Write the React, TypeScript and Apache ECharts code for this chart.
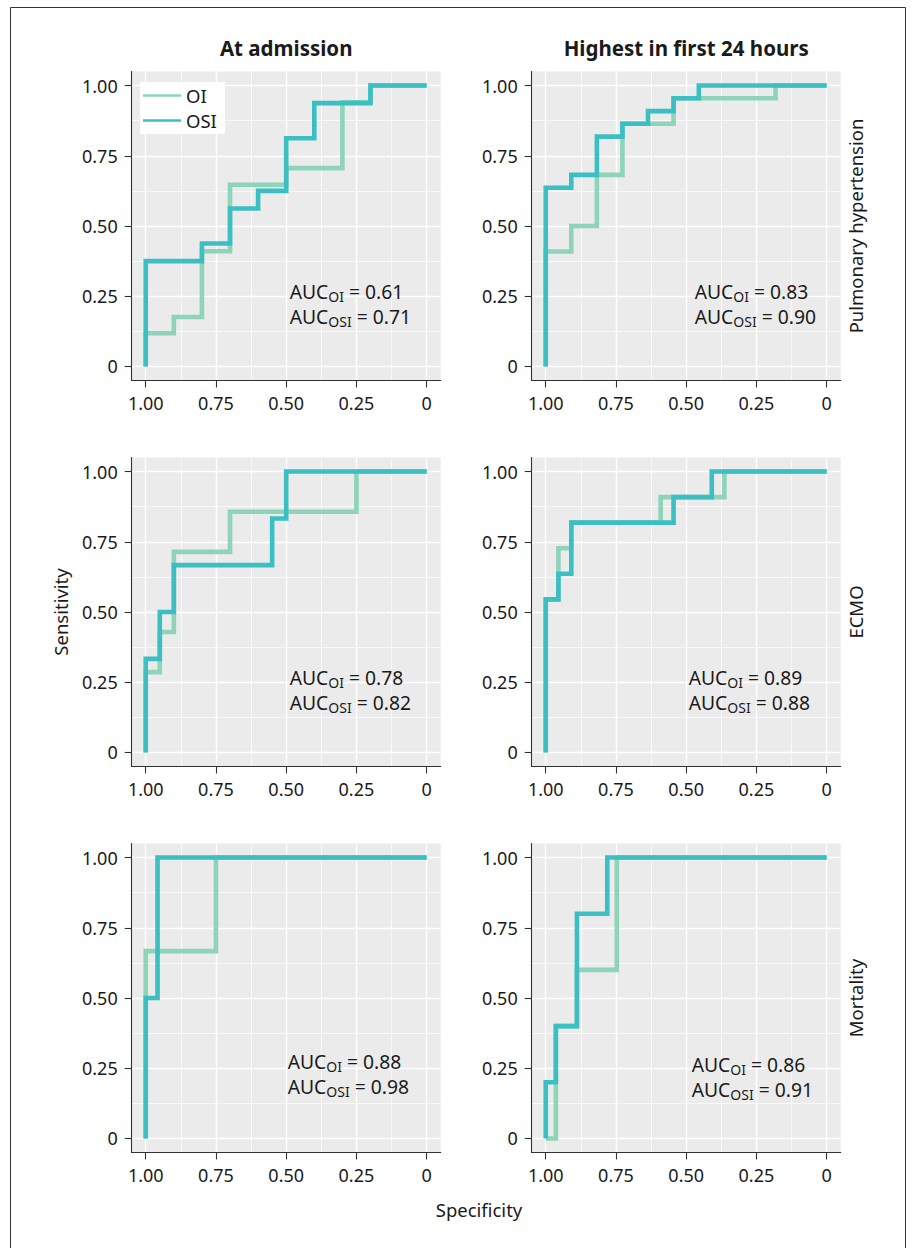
import React, { useEffect, useRef } from 'react';
import * as echarts from 'echarts';

// ---------- data ----------
const majorTicks = [0, 0.25, 0.5, 0.75, 1];
const minorTicks = [0.125, 0.375, 0.625, 0.875];
const tickLabels = ['0', '0.25', '0.50', '0.75', '1.00'];

const columnTitles = ['At admission', 'Highest in first 24 hours'];
const rowLabels = ['Pulmonary hypertension', 'ECMO', 'Mortality'];
const seriesNames = ['OI', 'OSI'];

// ROC curves: corner points (specificity, sensitivity), drawn as steps
const phAdmOISpec = [1, 0.9, 0.8, 0.7, 0.5, 0.3, 0.2, 0];
const phAdmOISens = [0, 0.118, 0.176, 0.41, 0.647, 0.706, 0.94, 1];
const phAdmOSISpec = [1, 0.8, 0.7, 0.6, 0.5, 0.4, 0.2, 0];
const phAdmOSISens = [0, 0.375, 0.4375, 0.5625, 0.625, 0.8125, 0.9375, 1];

const ph24OISpec = [1, 0.909, 0.818, 0.727, 0.545, 0.182, 0];
const ph24OISens = [0, 0.409, 0.5, 0.682, 0.864, 0.955, 1];
const ph24OSISpec = [1, 0.909, 0.818, 0.727, 0.636, 0.545, 0.455, 0];
const ph24OSISens = [0, 0.636, 0.682, 0.818, 0.864, 0.909, 0.955, 1];

const ecmoAdmOISpec = [1, 0.95, 0.9, 0.7, 0.25, 0];
const ecmoAdmOISens = [0, 0.286, 0.429, 0.714, 0.857, 1];
const ecmoAdmOSISpec = [1, 0.95, 0.9, 0.55, 0.5, 0];
const ecmoAdmOSISens = [0, 0.333, 0.5, 0.667, 0.833, 1];

const ecmo24OISpec = [1, 0.955, 0.909, 0.591, 0.364, 0];
const ecmo24OISens = [0, 0.545, 0.727, 0.818, 0.909, 1];
const ecmo24OSISpec = [1, 0.955, 0.909, 0.545, 0.409, 0];
const ecmo24OSISens = [0, 0.545, 0.636, 0.818, 0.909, 1];

const mortAdmOISpec = [1, 0.75, 0];
const mortAdmOISens = [0, 0.667, 1];
const mortAdmOSISpec = [1, 0.958, 0];
const mortAdmOSISens = [0, 0.5, 1];

const mort24OISpec = [1, 0.964, 0.889, 0.747, 0];
const mort24OISens = [0, 0, 0.4, 0.6, 1];
const mort24OSISpec = [1, 0.964, 0.889, 0.781, 0];
const mort24OSISens = [0, 0.2, 0.4, 0.8, 1];

const aucOI = [0.61, 0.83, 0.78, 0.89, 0.88, 0.86];
const aucOSI = [0.71, 0.9, 0.82, 0.88, 0.98, 0.91];

const panelCurves = [
  [[phAdmOISpec, phAdmOISens], [phAdmOSISpec, phAdmOSISens]],
  [[ph24OISpec, ph24OISens], [ph24OSISpec, ph24OSISens]],
  [[ecmoAdmOISpec, ecmoAdmOISens], [ecmoAdmOSISpec, ecmoAdmOSISens]],
  [[ecmo24OISpec, ecmo24OISens], [ecmo24OSISpec, ecmo24OSISens]],
  [[mortAdmOISpec, mortAdmOISens], [mortAdmOSISpec, mortAdmOSISens]],
  [[mort24OISpec, mort24OISens], [mort24OSISpec, mort24OSISens]],
];

// ---------- style / layout ----------
const FONT = '"Noto Sans", "Open Sans", sans-serif';
const COLORS = ['#8dd4b8', '#3bbfc3'];
const colLeft = [131.7, 531.7];
const rowTop = [71.5, 457.5, 843.5];
const panelW = 309;
const panelH = 309;
// AUC label offset inside each panel (left x, first line center y)
const aucPos = [
  [158, 221], [163, 221],
  [158, 221], [157, 221],
  [156, 219], [160, 222],
];

function buildOption() {
  const grid: any[] = [];
  const xAxis: any[] = [];
  const yAxis: any[] = [];
  const series: any[] = [];
  const graphic: any[] = [];

  const fmt = (v: number) => {
    const k = majorTicks.indexOf(v);
    return k >= 0 ? tickLabels[k] : '';
  };

  panelCurves.forEach((curves, i) => {
    const r = Math.floor(i / 2);
    const c = i % 2;
    grid.push({
      left: colLeft[c], top: rowTop[r], width: panelW, height: panelH,
      show: true, backgroundColor: '#ebebeb', borderWidth: 0,
    });
    const base = { type: 'value', gridIndex: i, min: -0.05, max: 1.05 };
    const axisLine = { show: true, onZero: false, lineStyle: { color: '#333', width: 1.1 } };
    xAxis.push({
      ...base, inverse: true, position: 'bottom',
      axisLine,
      axisTick: { show: true, length: 7, customValues: majorTicks, lineStyle: { color: '#333', width: 1.1 } },
      axisLabel: { customValues: majorTicks, formatter: fmt, margin: 13, fontSize: 18, color: '#1a1a1a', fontFamily: FONT },
      splitLine: { show: true, lineStyle: { color: '#ffffff', width: 1.4 } },
    });
    xAxis.push({
      ...base, inverse: true, position: 'top',
      axisLine: { show: false },
      axisTick: { show: false, customValues: minorTicks },
      axisLabel: { show: false, customValues: minorTicks },
      splitLine: { show: true, lineStyle: { color: '#ffffff', width: 0.7 } },
    });
    yAxis.push({
      ...base, position: 'left',
      axisLine,
      axisTick: { show: true, length: 7, customValues: majorTicks, lineStyle: { color: '#333', width: 1.1 } },
      axisLabel: { customValues: majorTicks, formatter: fmt, margin: 14, fontSize: 18, color: '#1a1a1a', fontFamily: FONT },
      splitLine: { show: true, lineStyle: { color: '#ffffff', width: 1.4 } },
    });
    yAxis.push({
      ...base, position: 'right',
      axisLine: { show: false },
      axisTick: { show: false, customValues: minorTicks },
      axisLabel: { show: false, customValues: minorTicks },
      splitLine: { show: true, lineStyle: { color: '#ffffff', width: 0.7 } },
    });

    curves.forEach(([spec, sens], k) => {
      series.push({
        type: 'line',
        name: seriesNames[k],
        xAxisIndex: 2 * i,
        yAxisIndex: 2 * i,
        step: 'start',
        symbol: 'none',
        color: COLORS[k],
        lineStyle: { color: COLORS[k], width: 4.6, cap: 'butt', join: 'miter' },
        data: spec.map((s, j) => [s, sens[j]]),
        z: 2 + k,
        silent: true,
      });
    });

    const [ax, ay] = aucPos[i];
    const vals = [aucOI[i], aucOSI[i]];
    vals.forEach((v, k) => {
      graphic.push({
        type: 'text',
        x: colLeft[c] + ax,
        y: rowTop[r] + ay + k * 25,
        z: 10,
        style: {
          text: `{m|AUC}{s|${seriesNames[k]}}{m| = ${v.toFixed(2)}}`,
          align: 'left',
          verticalAlign: 'middle',
          rich: {
            m: { fontSize: 19.3, fontFamily: FONT, fill: '#1a1a1a', verticalAlign: 'bottom', padding: [0, 0, 3, 0] },
            s: { fontSize: 14, fontFamily: FONT, fill: '#1a1a1a', verticalAlign: 'bottom' },
          },
        },
      });
    });
  });

  // frame
  graphic.push({
    type: 'rect', shape: { x: 10.5, y: 7.5, width: 895, height: 1270 },
    style: { fill: 'none', stroke: '#333', lineWidth: 1 }, z: 0, silent: true,
  });
  // column titles
  columnTitles.forEach((t, c) => {
    graphic.push({
      type: 'text', x: colLeft[c] + panelW / 2, y: 48,
      style: { text: t, fontSize: 20.5, fontWeight: 'bold', fontFamily: FONT, fill: '#1a1a1a', align: 'center', verticalAlign: 'middle' },
    });
  });
  // row strip labels
  rowLabels.forEach((t, r) => {
    graphic.push({
      type: 'text', x: 855, y: rowTop[r] + panelH / 2, rotation: Math.PI / 2,
      style: { text: t, fontSize: 18.5, fontFamily: FONT, fill: '#1a1a1a', align: 'center', verticalAlign: 'middle' },
    });
  });
  // axis titles
  graphic.push({
    type: 'text', x: 60, y: 612, rotation: Math.PI / 2,
    style: { text: 'Sensitivity', fontSize: 18.5, fontFamily: FONT, fill: '#1a1a1a', align: 'center', verticalAlign: 'middle' },
  });
  graphic.push({
    type: 'text', x: 479, y: 1209,
    style: { text: 'Specificity', fontSize: 18.5, fontFamily: FONT, fill: '#1a1a1a', align: 'center', verticalAlign: 'middle' },
  });

  return {
    animation: false,
    backgroundColor: '#ffffff',
    textStyle: { fontFamily: FONT },
    legend: {
      data: seriesNames,
      left: 140, top: 82,
      orient: 'vertical',
      backgroundColor: '#ffffff',
      padding: [4, 8, 4, 3],
      itemGap: 6,
      icon: 'rect',
      itemWidth: 38,
      itemHeight: 2.5,
      selectedMode: false,
      textStyle: { fontSize: 18.5, color: '#1a1a1a', fontFamily: FONT },
      z: 20,
    },
    grid, xAxis, yAxis, series, graphic,
  };
}

export default function App() {
  const ref = useRef<HTMLDivElement>(null);
  useEffect(() => {
    if (!ref.current) return;
    const chart = echarts.init(ref.current, null, { renderer: 'svg' });
    chart.setOption(buildOption() as any);
    return () => chart.dispose();
  }, []);
  return (
    <div
      ref={ref}
      style={{ position: 'fixed', left: 0, top: 0, width: 912, height: 1248, background: '#fff' }}
    />
  );
}
